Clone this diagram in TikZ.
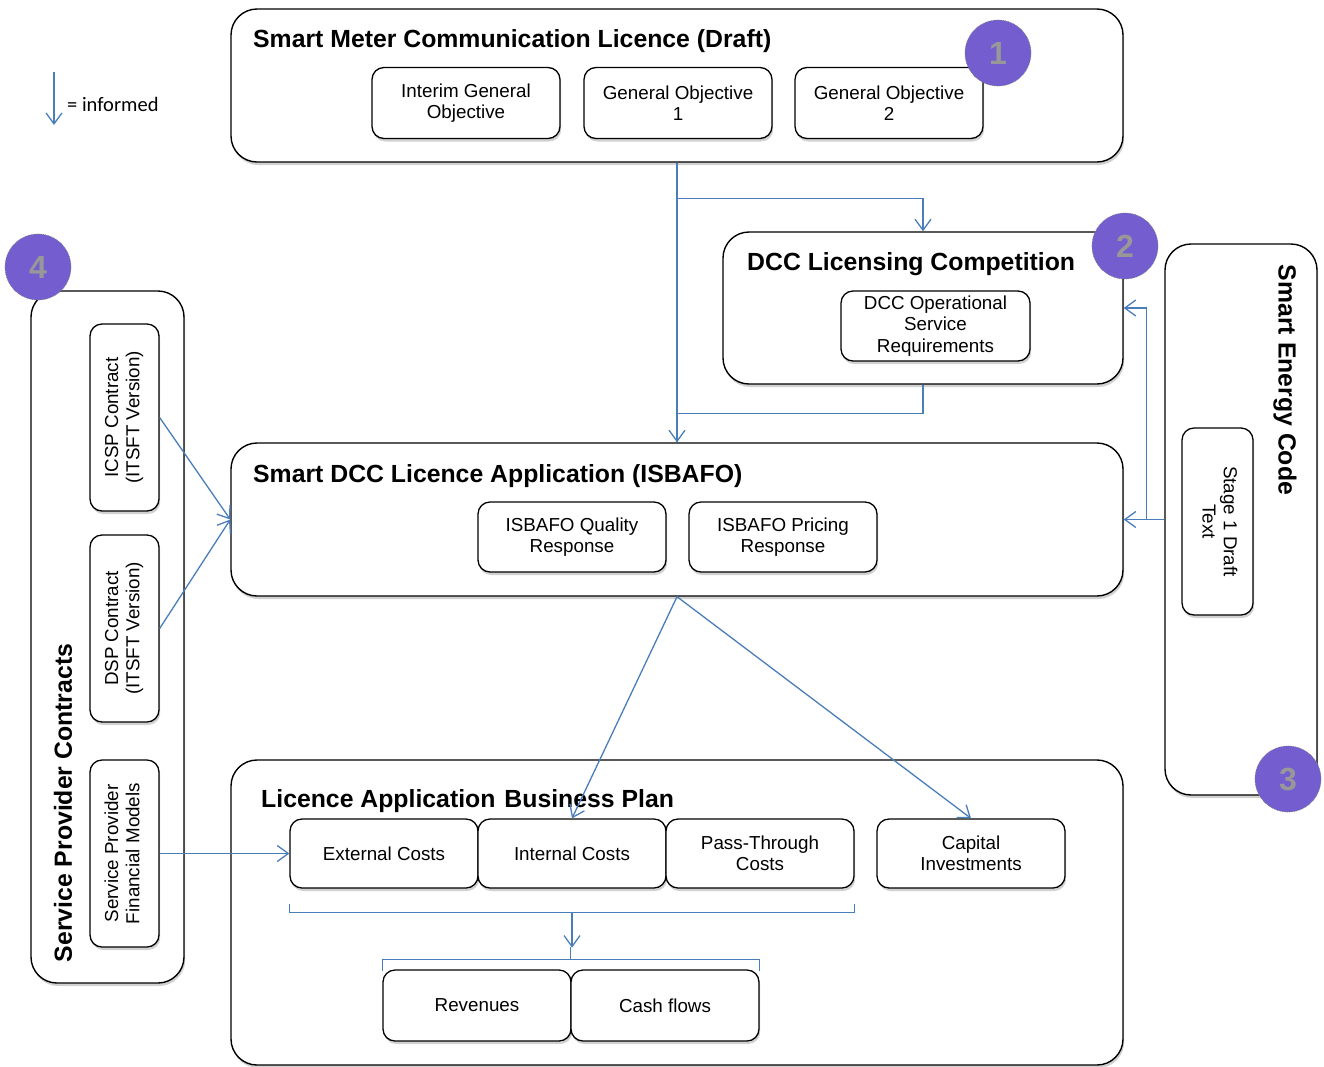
\documentclass[tikz,border=0pt]{standalone}
\usepackage{fontspec}
\setmainfont{Liberation Sans}
\newfontfamily\legendfont{Carlito}
\usetikzlibrary{arrows.meta,shadows}
\definecolor{linkblue}{RGB}{74,126,187}
\definecolor{badgefill}{RGB}{115,93,207}
\definecolor{badgetext}{RGB}{152,152,152}

\tikzset{
  softshadow/.style={drop shadow={shadow xshift=1.2pt,shadow yshift=-3pt,fill=black,opacity=0.18}},
  group/.style={draw=black, line width=1.4pt, rounded corners=26pt, fill=white, softshadow, inner sep=0pt},
  item/.style={draw=black, line width=1.3pt, rounded corners=12pt, fill=white, softshadow,
    align=center, font=\fontsize{18.8}{21.2}\selectfont, inner sep=0pt},
  grouptitle/.style={anchor=west, font=\fontsize{24.8}{28}\selectfont\bfseries, inner sep=0pt},
  sidetitle/.style={font=\fontsize{24.8}{28}\selectfont\bfseries, inner sep=0pt},
  wire/.style={draw=linkblue, line width=1.3pt},
  link/.style={wire, -{Straight Barb[length=11pt,width=16pt,line width=1.3pt]}},
  badge/.style={circle, fill=badgefill, draw=gray, densely dotted, line width=0.7pt,
    minimum size=66pt, inner sep=0pt, text=badgetext, font=\fontsize{32}{32}\selectfont\bfseries}
}

\begin{document}
\begin{tikzpicture}[x=1pt,y=-1pt]
\useasboundingbox (0,0) rectangle (1324,1066);

% legend
\coordinate (legtop) at (54,72);
\coordinate (legbot) at (54,125);
\draw[link] (legtop) -- (legbot);
\node[anchor=west, inner sep=0pt, font=\legendfont\fontsize{20.5}{22}\selectfont] (legtext) at (67,104) {= informed};

% outer groups
\node[group, minimum width=892pt, minimum height=153pt] (smcl) at (677,85.5) {};
\node[group, minimum width=400pt, minimum height=152pt] (dcc) at (923,308) {};
\node[group, minimum width=152pt, minimum height=551pt] (sec) at (1241,519.5) {};
\node[group, minimum width=153pt, minimum height=692pt] (spc) at (107.5,637) {};
\node[group, minimum width=892pt, minimum height=153pt] (isb) at (677,519.5) {};
\node[group, minimum width=892pt, minimum height=305pt] (lab) at (677,912.5) {};

% group titles
\node[grouptitle] (smclt) at (253,41.5) {Smart Meter Communication Licence (Draft)};
\node[grouptitle] (dcct) at (747,264.5) {DCC Licensing Competition};
\node[grouptitle] (isbt) at (253,476.5) {Smart DCC Licence Application (ISBAFO)};
\node[grouptitle] (labt) at (261,801.5) {Licence Application\hspace{9pt}Business Plan};
\node[sidetitle, rotate=-90] (sect) at (1285,380) {Smart Energy Code};
\node[sidetitle, rotate=90] (spct) at (63,803) {Service Provider Contracts};

% items of the licence
\node[item, minimum width=188pt, minimum height=71pt] (igo) at (466,103) {Interim General\\Objective};
\node[item, minimum width=188pt, minimum height=71pt] (go1) at (678,103) {General Objective\\1};
\node[item, minimum width=188pt, minimum height=71pt] (go2) at (889,103) {General Objective\\2};

\node[item, minimum width=189pt, minimum height=70pt] (dosr) at (935.5,326) {DCC Operational\\Service\\Requirements};

\node[item, minimum width=71pt, minimum height=187pt] (stage) at (1217.5,521.5)
  {\rotatebox{-90}{\begin{tabular}{@{}c@{}}Stage 1 Draft\\Text\end{tabular}}};

\node[item, minimum width=69pt, minimum height=187pt] (icsp) at (124.5,417.5)
  {\rotatebox{90}{\begin{tabular}{@{}c@{}}ICSP Contract\\(ITSFT Version)\end{tabular}}};
\node[item, minimum width=69pt, minimum height=187pt] (dsp) at (124.5,628.5)
  {\rotatebox{90}{\begin{tabular}{@{}c@{}}DSP Contract\\(ITSFT Version)\end{tabular}}};
\node[item, minimum width=69pt, minimum height=187pt] (spfm) at (124.5,853.5)
  {\rotatebox{90}{\begin{tabular}{@{}c@{}}Service Provider\\Financial Models\end{tabular}}};

\node[item, minimum width=188pt, minimum height=70pt] (isq) at (572,537) {ISBAFO Quality\\Response};
\node[item, minimum width=188pt, minimum height=70pt] (isp) at (783,537) {ISBAFO Pricing\\Response};

\node[item, minimum width=188pt, minimum height=69pt] (ext) at (384,853.5) {External Costs};
\node[item, minimum width=188pt, minimum height=69pt] (int) at (572,853.5) {Internal Costs};
\node[item, minimum width=188pt, minimum height=69pt] (pass) at (760,853.5) {Pass-Through\\Costs};
\node[item, minimum width=188pt, minimum height=69pt] (cap) at (971,853.5) {Capital\\Investments};

\node[item, minimum width=188pt, minimum height=71pt] (rev) at (477,1005.5) {Revenues};
\node[item, minimum width=188pt, minimum height=71pt] (cash) at (665,1005.5) {Cash flows};

% information flows
\draw[link] (smcl.south) -- (isb.north);
\draw[link] (smcl.south) ++(0,36) -| (dcc.north);
\draw[wire] (dcc.south) -- ++(0,29) -| (isb.north);
\draw[link] (sec.west) -- (isb.east);
\draw[link] (sec.west) ++(-18,0) |- (dcc.east);
\draw[link] (icsp.east) -- (isb.west);
\draw[link] (dsp.east) -- (isb.west);
\draw[link] (spfm.east) -- (ext.west);
\draw[link] (isb.south) -- (int.north);
\draw[link] (isb.south) -- (cap.north);

% cost brackets
\draw[wire] ([yshift=-15pt]ext.south west) -- ([yshift=-24pt]ext.south west)
  -- ([yshift=-24pt]pass.south east) -- ([yshift=-15pt]pass.south east);
\draw[link] ([yshift=-24pt]int.south) -- ([yshift=-59pt]int.south);
\draw[wire] ([yshift=-2pt]rev.north west) -- ([yshift=10pt]rev.north west)
  -- ([yshift=10pt]cash.north east) -- ([yshift=-2pt]cash.north east);
\draw[wire] ([yshift=10pt]cash.north west) -- ([yshift=22pt]cash.north west);

% numbered badges
\node[badge] (b1) at (998,53) {1};
\node[badge] (b2) at (1125,246) {2};
\node[badge] (b3) at (1288,779) {3};
\node[badge] (b4) at (38,267) {4};
\end{tikzpicture}
\end{document}
